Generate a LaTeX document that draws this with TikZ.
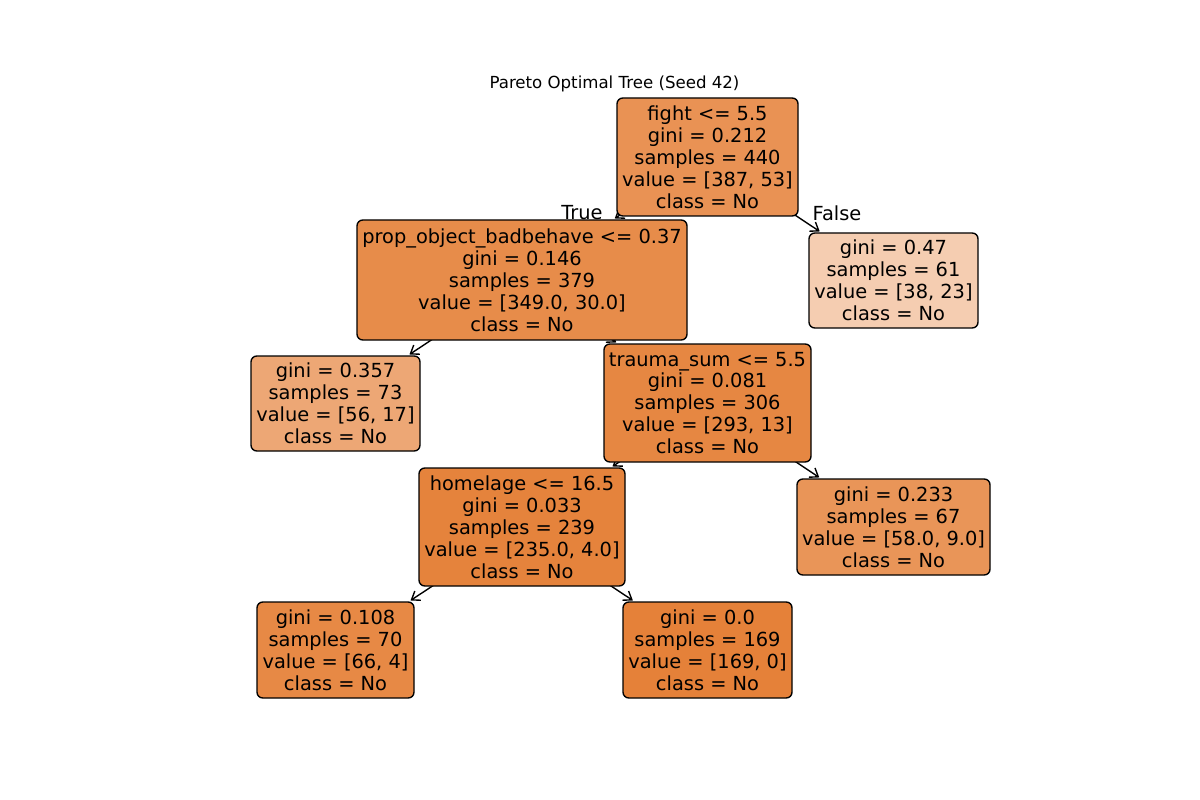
\documentclass[tikz,border=0pt]{standalone}
\usepackage{fontspec}
\setmainfont{DejaVu Sans}
\usetikzlibrary{arrows.meta}
\newlength\pxu
\setlength\pxu{0.01in}
\pgfdeclarelayer{bg}
\pgfsetlayers{bg,main}
% impurity-shaded fills of the single class colour
\definecolor{cRoot}{RGB}{233,146,84}
\definecolor{cLeft}{RGB}{231,140,74}
\definecolor{cRight}{RGB}{245,205,177}
\definecolor{cLL}{RGB}{237,167,117}
\definecolor{cTrauma}{RGB}{230,135,66}
\definecolor{cHome}{RGB}{229,131,60}
\definecolor{cGtwo}{RGB}{233,149,88}
\definecolor{cGone}{RGB}{231,137,69}
\definecolor{cPure}{RGB}{229,129,57}
\tikzset{
  treenode/.style={draw=black, line width=1pt, rounded corners=4.2pt,
    align=center, inner sep=0pt, outer sep=0pt,
    font=\fontsize{14pt}{15.84pt}\selectfont},
  edgelbl/.style={font=\fontsize{14pt}{15.84pt}\selectfont, inner sep=0pt},
  arr/.style={line width=1pt, -{Straight Barb[length=5.5pt,width=8pt]},
    shorten >=2pt}
}
\begin{document}
\begin{tikzpicture}[x=\pxu, y=-\pxu]
\useasboundingbox (0,0) rectangle (1200,800);

\node[font=\fontsize{12pt}{14pt}\selectfont] (title) at (614.5,84) {Pareto Optimal Tree (Seed 42)};

\node[treenode, fill=cRoot, minimum width=181\pxu, minimum height=118\pxu] (root) at (707.5,157)
  {fight <= 5.5\\gini = 0.212\\samples = 440\\value = [387, 53]\\class = No};
\node[treenode, fill=cLeft, minimum width=330\pxu, minimum height=120\pxu] (left) at (522,280)
  {prop\_object\_badbehave <= 0.37\\gini = 0.146\\samples = 379\\value = [349.0, 30.0]\\class = No};
\node[treenode, fill=cRight, minimum width=169\pxu, minimum height=95\pxu] (right) at (893.5,280.5)
  {gini = 0.47\\samples = 61\\value = [38, 23]\\class = No};
\node[treenode, fill=cLL, minimum width=169\pxu, minimum height=95\pxu] (ll) at (335.5,403.5)
  {gini = 0.357\\samples = 73\\value = [56, 17]\\class = No};
\node[treenode, fill=cTrauma, minimum width=207\pxu, minimum height=118\pxu] (trauma) at (707.5,403)
  {trauma\_sum <= 5.5\\gini = 0.081\\samples = 306\\value = [293, 13]\\class = No};
\node[treenode, fill=cHome, minimum width=206\pxu, minimum height=118\pxu] (home) at (522,527)
  {homelage <= 16.5\\gini = 0.033\\samples = 239\\value = [235.0, 4.0]\\class = No};
\node[treenode, fill=cGtwo, minimum width=193\pxu, minimum height=96\pxu] (gtwo) at (893.5,527)
  {gini = 0.233\\samples = 67\\value = [58.0, 9.0]\\class = No};
\node[treenode, fill=cGone, minimum width=157\pxu, minimum height=96\pxu] (gone) at (335.5,650)
  {gini = 0.108\\samples = 70\\value = [66, 4]\\class = No};
\node[treenode, fill=cPure, minimum width=169\pxu, minimum height=96\pxu] (pure) at (707.5,650)
  {gini = 0.0\\samples = 169\\value = [169, 0]\\class = No};

\node[edgelbl] (tlbl) at (582,213) {True};
\node[edgelbl] (flbl) at (837,213) {False};

% connectors run behind the boxes, from parent centre to child border
\begin{pgfonlayer}{bg}
\draw[arr] (root.center) -- (left);
\draw[arr] (root.center) -- (right);
\draw[arr] (left.center) -- (ll);
\draw[arr] (left.center) -- (trauma);
\draw[arr] (trauma.center) -- (home);
\draw[arr] (trauma.center) -- (gtwo);
\draw[arr] (home.center) -- (gone);
\draw[arr] (home.center) -- (pure);
\end{pgfonlayer}
\end{tikzpicture}
\end{document}
